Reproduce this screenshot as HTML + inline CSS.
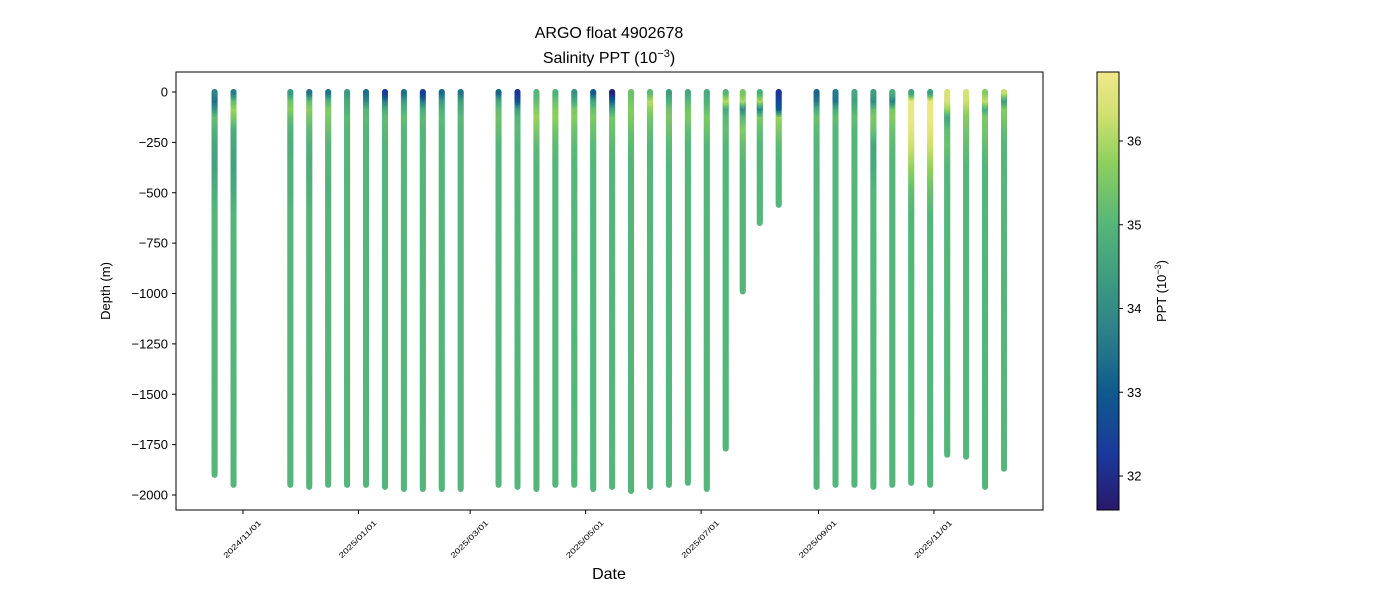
<!DOCTYPE html>
<html><head><meta charset="utf-8"><style>
body{margin:0;background:#fff;font-family:"Liberation Sans",sans-serif}
svg text{font-family:"Liberation Sans",sans-serif;fill:#000}
</style></head><body>
<svg id="c" width="1400" height="600" xmlns="http://www.w3.org/2000/svg">
<defs><linearGradient id="cbg" x1="0" y1="1" x2="0" y2="0">
<stop offset="0" stop-color="#2a186c"/><stop offset="0.13" stop-color="#1a3a9c"/><stop offset="0.27" stop-color="#0f5a8c"/><stop offset="0.4" stop-color="#2b7f8a"/><stop offset="0.52" stop-color="#3c9a80"/><stop offset="0.65" stop-color="#55b57a"/><stop offset="0.79" stop-color="#8ccf5e"/><stop offset="0.9" stop-color="#cfe070"/><stop offset="1" stop-color="#f0e88c"/></linearGradient></defs>
<text x="609" y="38" font-size="16" text-anchor="middle">ARGO float 4902678</text>
<text x="609" y="63" font-size="16" text-anchor="middle">Salinity PPT (10<tspan dy="-6" font-size="11">−3</tspan><tspan dy="6">)</tspan></text>
<g id="marks"></g>
<rect x="176" y="72" width="867" height="438" fill="none" stroke="#000" stroke-width="1"/>
<g id="axes"></g>
<text x="609" y="579" font-size="16" text-anchor="middle">Date</text>
<text transform="translate(110,291) rotate(-90)" font-size="13" text-anchor="middle">Depth (m)</text>
<rect x="1097" y="72" width="22" height="438" fill="url(#cbg)" stroke="#000" stroke-width="1"/>
<text transform="translate(1166,291) rotate(-90)" font-size="13" text-anchor="middle">PPT (10<tspan dy="-5" font-size="9">−3</tspan><tspan dy="5">)</tspan></text>
</svg>
<script>
const days=[-15,-5,25,35,45,55,65,75,85,95,105,115,135,145,155,165,175,185,195,205,215,225,235,245,255,264,273,283,303,313,323,333,343,353,363,372,382,392,402];
const maxDepth=[1900,1950,1950,1960,1950,1950,1950,1960,1970,1970,1970,1970,1950,1960,1970,1950,1950,1970,1960,1980,1960,1950,1940,1970,1770,990,650,560,1960,1950,1950,1960,1950,1940,1950,1800,1810,1960,1870];
const levels=[0,40,80,120,180,260,360,480,600];
const salinity=[
[33.8,33.4,34.2,35.2,34.9,34.6,34.5,34.8,35.0],
[33.6,35.2,35.8,35.5,34.8,34.6,34.5,34.7,35.0],
[34.3,35.4,35.6,35.2,34.9,34.8,34.9,34.9,35.0],
[33.5,35.2,35.7,35.4,35.1,34.9,34.8,34.9,35.0],
[33.5,35.0,35.6,35.5,35.3,35.0,35.0,34.9,35.0],
[34.3,34.7,34.9,35.1,35.0,35.0,35.0,35.0,35.0],
[33.4,34.0,35.0,35.1,35.0,35.0,35.0,35.0,35.0],
[32.3,33.7,34.8,35.2,35.1,35.0,35.0,35.0,35.0],
[33.4,34.4,34.9,35.2,35.0,35.0,35.0,35.0,35.0],
[32.3,33.6,34.8,35.1,35.0,35.0,35.0,35.0,35.0],
[33.3,34.4,34.9,35.1,35.0,35.0,35.0,35.0,35.0],
[33.5,34.5,34.8,35.1,35.0,35.0,35.0,35.0,35.0],
[33.2,34.7,35.2,35.3,35.2,35.0,35.0,35.0,35.0],
[32.2,32.8,34.5,35.0,35.1,35.0,35.0,35.0,35.0],
[35.0,35.2,35.6,35.8,35.5,35.1,35.0,35.0,35.0],
[34.9,35.3,35.6,35.7,35.4,35.1,35.0,35.0,35.0],
[34.1,34.7,35.5,35.6,35.3,35.1,35.0,35.0,35.0],
[33.0,34.6,35.3,35.5,35.3,35.1,35.0,35.0,35.0],
[31.8,33.2,34.6,35.4,35.3,35.1,35.0,35.0,35.0],
[35.3,35.4,35.6,35.5,35.3,35.1,35.0,35.0,35.0],
[35.1,36.1,35.7,35.4,35.2,35.0,35.0,35.0,35.0],
[34.4,34.9,35.4,35.5,35.3,35.1,35.0,35.0,35.0],
[34.6,35.1,35.4,35.5,35.2,35.0,35.0,35.0,35.0],
[34.7,34.9,35.2,35.5,35.3,35.0,35.0,35.0,35.0],
[35.0,36.1,34.7,35.1,35.2,35.0,35.0,35.0,35.0],
[35.4,36.0,34.0,35.1,35.6,35.2,35.0,35.0,35.0],
[34.8,36.0,33.8,35.5,35.2,35.0,35.0,35.0,35.0],
[32.2,32.6,33.0,35.8,35.5,35.1,35.0,35.0,35.0],
[33.2,33.6,34.8,35.3,35.1,35.0,35.0,35.0,35.0],
[33.6,33.5,34.8,35.2,35.0,35.0,35.0,35.0,35.0],
[34.6,34.5,34.9,35.2,35.0,35.0,35.0,35.0,35.0],
[34.4,34.0,35.2,35.5,35.3,34.6,34.7,35.0,35.0],
[34.8,33.7,35.5,35.6,35.3,35.1,35.0,35.0,35.0],
[34.5,36.7,36.7,36.7,36.6,36.3,35.8,35.2,35.0],
[34.4,36.7,36.7,36.7,36.6,36.3,35.8,35.3,35.0],
[36.4,36.4,35.8,34.6,35.2,35.3,35.0,35.0,35.0],
[36.4,36.3,35.9,35.6,35.4,35.2,35.0,35.0,35.0],
[35.6,36.2,34.8,35.5,35.4,35.2,35.0,35.0,35.0],
[36.2,34.4,35.6,35.5,35.2,35.0,35.0,35.0,35.0]];
const yTicks=[0,-250,-500,-750,-1000,-1250,-1500,-1750,-2000];
const xTickDays=[0,61,120,181,242,304,365];
const xTickLabels=["2024/11/01","2025/01/01","2025/03/01","2025/05/01","2025/07/01","2025/09/01","2025/11/01"];
const cbTicks=[32,33,34,35,36];

const NS="http://www.w3.org/2000/svg";
const X=d=>243+d*1.893;
const Y=v=>92-v*0.2015;
const CB=s=>476-(s-32)*83.75;
const stops=[[31.6,[42,24,108]],[32.3,[26,58,156]],[33,[15,90,140]],[33.7,[43,127,138]],[34.3,[60,154,128]],[35,[85,181,122]],[35.7,[140,207,94]],[36.3,[207,224,112]],[36.8,[240,232,140]]];
function cmap(s){if(s<=stops[0][0])return stops[0][1];for(let i=1;i<stops.length;i++){if(s<=stops[i][0]){const a=stops[i-1],b=stops[i],t=(s-a[0])/(b[0]-a[0]);return a[1].map((v,k)=>Math.round(v+(b[1][k]-v)*t));}}return stops[stops.length-1][1];}
function sal(p,d){const v=salinity[p];if(d>=levels[levels.length-1])return v[v.length-1];for(let i=1;i<levels.length;i++){if(d<=levels[i]){const t=(d-levels[i-1])/(levels[i]-levels[i-1]);return v[i-1]+(v[i]-v[i-1])*t;}}}
const marks=document.getElementById('marks');
days.forEach((dd,p)=>{
  const g=document.createElementNS(NS,'g');
  
  
  const x=X(dd);
  for(let d=maxDepth[p];d>=0;d-=10){
    const c=cmap(sal(p,d));
    const l=document.createElementNS(NS,'line');
    l.setAttribute('x1',x);l.setAttribute('x2',x);
    l.setAttribute('y1',Y(-d));l.setAttribute('y2',Y(-Math.max(0,d-10)));
    l.setAttribute('stroke','rgb('+c.join(',')+')');
    l.setAttribute('stroke-width','6');l.setAttribute('stroke-linecap','round');
    g.appendChild(l);
  }
  marks.appendChild(g);
});
const axes=document.getElementById('axes');
function add(tag,attrs,txt){const e=document.createElementNS(NS,tag);for(const k in attrs)e.setAttribute(k,attrs[k]);if(txt!==undefined)e.textContent=txt;axes.appendChild(e);return e;}
yTicks.forEach(v=>{
  const t=add('line',{x1:172,x2:176,y1:Y(v),y2:Y(v),stroke:'#000'});
  
  
  const l=add('text',{x:168,y:Y(v)+4.5,'font-size':13,'text-anchor':'end'},(v<0?'−'+(-v):v));
  
  
});
xTickDays.forEach((d,i)=>{
  const x=X(d);
  const t=add('line',{x1:x,x2:x,y1:510,y2:514,stroke:'#000'});
  
  
  const l=add('text',{transform:'translate('+(x+1)+',541) rotate(-45)','font-size':7.5,'text-anchor':'middle',textLength:50,lengthAdjust:'spacingAndGlyphs'},xTickLabels[i]);
  
  
});
cbTicks.forEach(v=>{
  const t=add('line',{x1:1119,x2:1123,y1:CB(v),y2:CB(v),stroke:'#000'});
  
  
  const l=add('text',{x:1127,y:CB(v)+4.5,'font-size':13},v);
  
  
});
</script>
</body></html>
